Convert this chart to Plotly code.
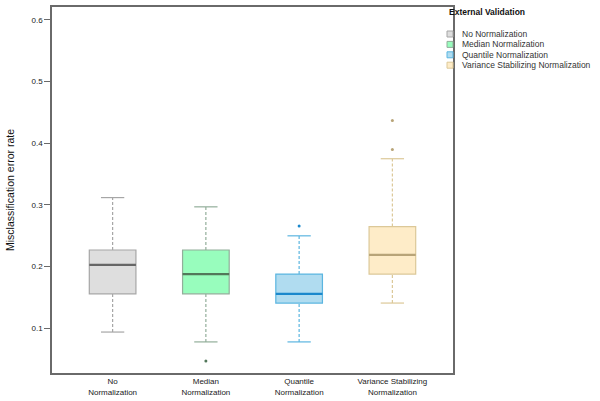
import plotly.graph_objects as go

categories = ["No Normalization", "Median Normalization", "Quantile Normalization",
              "Variance Stabilizing Normalization"]
tick_labels = ["No<br>Normalization", "Median<br>Normalization", "Quantile<br>Normalization",
               "Variance Stabilizing<br>Normalization"]
lower_whisker = [0.094, 0.078, 0.078, 0.141]
q1 = [0.156, 0.156, 0.141, 0.188]
median = [0.203, 0.188, 0.156, 0.219]
q3 = [0.227, 0.227, 0.188, 0.265]
upper_whisker = [0.312, 0.297, 0.250, 0.375]
outliers = [[], [0.047], [0.266], [0.390, 0.437]]
legend_title = "External Validation"

fill_colors = ["#dedede", "#98fdbd", "#b0dcf0", "#feecc8"]
line_colors = ["#a6a6a6", "#92ae9a", "#5bb5e0", "#dcc898"]
median_colors = ["#666666", "#52775a", "#1b88cc", "#b8a478"]

W, H = 600, 401
ML, MR, MT, MB = 52, 147, 7, 28
PW, PH = W - ML - MR, H - MT - MB

BOX_W = 0.5
CAP_W = 0.25

fig = go.Figure()
for i, name in enumerate(categories):
    fig.add_trace(go.Box(
        x=[i], q1=[q1[i]], median=[median[i]], q3=[q3[i]],
        lowerfence=[q1[i]], upperfence=[q3[i]],
        width=BOX_W, whiskerwidth=0,
        fillcolor=fill_colors[i], line=dict(color=line_colors[i], width=1.2),
        name=name, boxpoints=False, hoverinfo="skip", showlegend=False))
    fig.add_trace(go.Scatter(
        x=[i, i, None, i, i],
        y=[lower_whisker[i], q1[i], None, q3[i], upper_whisker[i]],
        mode="lines", line=dict(color=line_colors[i], width=1.2, dash="3px,2px"),
        showlegend=False, hoverinfo="skip"))
    fig.add_trace(go.Scatter(
        x=[i - CAP_W / 2, i + CAP_W / 2, None, i - CAP_W / 2, i + CAP_W / 2],
        y=[lower_whisker[i], lower_whisker[i], None, upper_whisker[i], upper_whisker[i]],
        mode="lines", line=dict(color=line_colors[i], width=1.2),
        showlegend=False, hoverinfo="skip"))
    fig.add_trace(go.Scatter(
        x=[i - BOX_W / 2, i + BOX_W / 2], y=[median[i], median[i]],
        mode="lines", line=dict(color=median_colors[i], width=2.2),
        showlegend=False, hoverinfo="skip"))
    if outliers[i]:
        fig.add_trace(go.Scatter(
            x=[i] * len(outliers[i]), y=outliers[i], mode="markers",
            marker=dict(color=median_colors[i], size=3),
            showlegend=False, hoverinfo="skip"))


def px_to_paper_x(px):
    return (px - ML) / PW


def px_to_paper_y(py):
    return 1 - (py - MT) / PH


# legend drawn as annotations + small squares (compact like the reference)
fig.add_annotation(
    x=px_to_paper_x(447), y=px_to_paper_y(12), xref="paper", yref="paper",
    text="<b>" + legend_title + "</b>", showarrow=False, xanchor="left", yanchor="middle",
    font=dict(size=8.5, color="#111111"))
SQ = 6
for i, name in enumerate(categories):
    cy = 34 + 10.4 * i
    fig.add_shape(type="rect", xref="paper", yref="paper",
                  x0=px_to_paper_x(450 - SQ / 2), x1=px_to_paper_x(450 + SQ / 2),
                  y0=px_to_paper_y(cy + SQ / 2), y1=px_to_paper_y(cy - SQ / 2),
                  fillcolor=fill_colors[i], line=dict(color=line_colors[i], width=1))
    fig.add_annotation(
        x=px_to_paper_x(460), y=px_to_paper_y(cy), xref="paper", yref="paper",
        text=name, showarrow=False, xanchor="left", yanchor="middle",
        font=dict(size=8.5, color="#333333"))

fig.update_layout(
    width=W, height=H,
    margin=dict(l=ML, r=MR, t=MT, b=MB),
    plot_bgcolor="white", paper_bgcolor="white",
    font=dict(family="Arial, Liberation Sans, sans-serif", size=8, color="#222222"),
    showlegend=False,
)
fig.update_xaxes(
    range=[-0.65, 3.65], tickvals=list(range(len(categories))), ticktext=tick_labels,
    showgrid=False, zeroline=False, showline=True, mirror=True, automargin=False,
    linecolor="#6a6a6a", linewidth=1.5, ticks="", tickfont=dict(size=8, color="#222222"))
fig.update_yaxes(
    range=[0.0276, 0.621], tickvals=[0.1, 0.2, 0.3, 0.4, 0.5, 0.6],
    showgrid=False, zeroline=False, showline=True, mirror=True, automargin=False,
    linecolor="#6a6a6a", linewidth=1.5, ticks="outside", ticklen=6, tickcolor="#6a6a6a",
    tickfont=dict(size=8, color="#222222"),
    title=dict(text="Misclassification error rate", font=dict(size=10.5, color="#111111")))

fig.write_html("out.html", config={"displayModeBar": False},
               post_script="document.body.style.margin='0';document.body.style.padding='0';")
